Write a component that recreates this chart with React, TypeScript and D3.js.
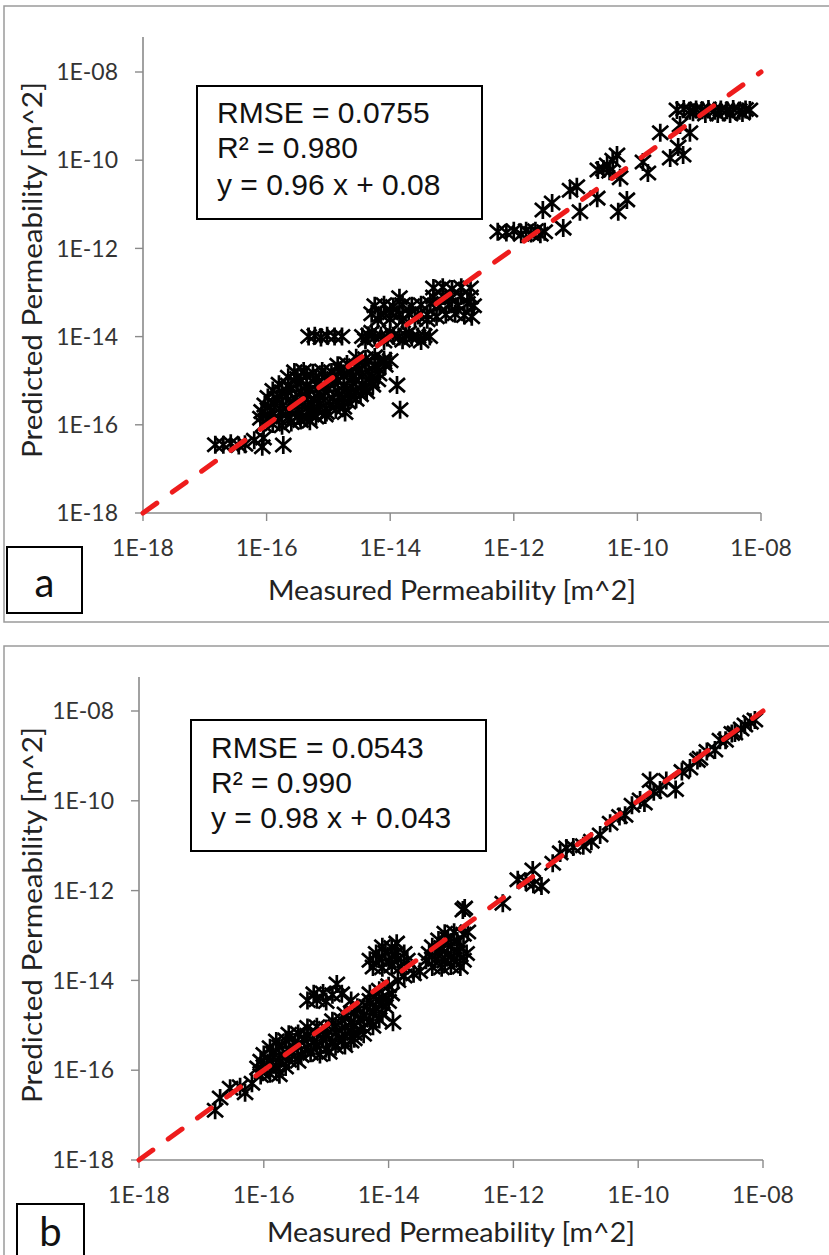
import * as d3 from "d3";
import React from "react";

const tickVals = [1e-18, 1e-16, 1e-14, 1e-12, 1e-10, 1e-8];
const tickLabels = ["1E-18", "1E-16", "1E-14", "1E-12", "1E-10", "1E-08"];

const statsA = ["RMSE = 0.0755", "R² = 0.980", "y = 0.96 x + 0.08"];
const statsB = ["RMSE = 0.0543", "R² = 0.990", "y = 0.98 x + 0.043"];

const aLow = [
  [-16.83, -16.45], [-16.7, -16.45], [-16.58, -16.42], [-16.45, -16.47], [-16.35, -16.44],
  [-16.2, -16.35], [-16.07, -16.5], [-16.05, -16.3], [-15.73, -16.46],
];
const aBlob = [
  [-16.05, -16.0], [-15.9, -15.98], [-15.75, -16.02], [-15.6, -15.95], [-15.45, -15.9], [-15.3, -15.92],
  [-16.1, -15.85], [-15.95, -15.82], [-15.8, -15.86], [-15.65, -15.83], [-15.5, -15.8], [-15.35, -15.85], [-15.2, -15.82], [-15.05, -15.78],
  [-16.08, -15.7], [-15.93, -15.68], [-15.78, -15.72], [-15.63, -15.7], [-15.48, -15.66], [-15.33, -15.7], [-15.18, -15.68], [-15.03, -15.72], [-14.88, -15.66], [-14.75, -15.6],
  [-16.03, -15.55], [-15.88, -15.52], [-15.73, -15.56], [-15.58, -15.54], [-15.43, -15.5], [-15.28, -15.55], [-15.13, -15.52], [-14.98, -15.56], [-14.83, -15.5], [-14.68, -15.48], [-14.55, -15.42],
  [-15.98, -15.38], [-15.83, -15.4], [-15.68, -15.36], [-15.53, -15.4], [-15.38, -15.38], [-15.23, -15.42], [-15.08, -15.36], [-14.93, -15.4], [-14.78, -15.38], [-14.63, -15.35], [-14.48, -15.32], [-14.38, -15.25],
  [-15.9, -15.22], [-15.75, -15.25], [-15.6, -15.2], [-15.45, -15.25], [-15.3, -15.22], [-15.15, -15.26], [-15.0, -15.2], [-14.85, -15.24], [-14.7, -15.2], [-14.55, -15.22], [-14.4, -15.18], [-14.28, -15.1],
  [-15.8, -15.08], [-15.65, -15.1], [-15.5, -15.06], [-15.35, -15.1], [-15.2, -15.08], [-15.05, -15.12], [-14.9, -15.06], [-14.75, -15.1], [-14.6, -15.05], [-14.45, -15.08], [-14.3, -15.02], [-14.2, -14.98],
  [-15.65, -14.92], [-15.5, -14.95], [-15.35, -14.9], [-15.2, -14.96], [-15.05, -14.92], [-14.9, -14.95], [-14.75, -14.9], [-14.6, -14.94], [-14.45, -14.9], [-14.3, -14.92], [-14.18, -14.85],
  [-15.55, -14.8], [-15.4, -14.78], [-15.25, -14.82], [-15.1, -14.78], [-14.95, -14.8], [-14.8, -14.76], [-14.65, -14.8], [-14.5, -14.75], [-14.35, -14.78], [-14.2, -14.72], [-14.08, -14.65],
  [-14.85, -14.65], [-14.7, -14.62], [-14.55, -14.66], [-14.4, -14.6], [-14.25, -14.64], [-14.1, -14.58],
  [-14.55, -14.48], [-14.4, -14.5], [-14.25, -14.46], [-14.1, -14.52], [-14.0, -14.55],
  [-13.89, -15.1], [-13.84, -15.66], [-14.73, -15.72], [-15.27, -15.73],
];
const aRow14 = [
  [-15.32, -14.0], [-15.22, -13.98], [-15.12, -14.02], [-15.02, -13.98], [-14.9, -14.0], [-14.78, -14.0],
  [-14.45, -14.0], [-14.35, -13.97], [-14.25, -14.02], [-14.15, -13.98], [-14.05, -14.02], [-13.95, -13.98],
  [-13.85, -14.0], [-13.75, -13.97], [-13.65, -14.02], [-13.55, -14.0], [-13.45, -13.98], [-13.36, -14.0],
  [-14.4, -14.08], [-14.1, -14.1], [-13.8, -14.08], [-13.5, -14.1], [-14.3, -13.9], [-14.0, -13.9], [-13.7, -13.92],
];
const aBlock13 = [
  [-14.2, -13.62], [-14.0, -13.6], [-13.8, -13.64], [-13.6, -13.6], [-13.4, -13.62],
  [-14.3, -13.48], [-14.15, -13.5], [-14.0, -13.46], [-13.85, -13.5], [-13.7, -13.48], [-13.55, -13.52],
  [-13.4, -13.5], [-13.25, -13.55], [-13.1, -13.5], [-12.95, -13.48], [-12.8, -13.52], [-12.68, -13.55],
  [-14.25, -13.3], [-14.1, -13.28], [-13.95, -13.32], [-13.8, -13.28], [-13.65, -13.3], [-13.5, -13.28],
  [-13.35, -13.25], [-13.2, -13.3], [-13.05, -13.28], [-12.9, -13.3], [-12.75, -13.25], [-12.65, -13.3],
  [-13.85, -13.12], [-13.3, -13.1], [-13.15, -13.08], [-13.0, -13.12], [-12.85, -13.08], [-12.7, -13.1],
  [-13.3, -12.9], [-13.15, -12.88], [-13.0, -12.92], [-12.85, -12.88], [-12.7, -12.9],
];
const aUpper = [
  [-12.26, -11.62], [-12.12, -11.64], [-12.0, -11.6], [-11.88, -11.68], [-11.8, -11.6], [-11.72, -11.66],
  [-11.65, -11.6], [-11.57, -11.68], [-11.5, -11.62],
  [-11.53, -11.13], [-11.38, -10.97], [-11.2, -11.54], [-11.09, -10.68], [-10.98, -10.6], [-10.93, -11.17],
  [-10.65, -10.86], [-10.64, -10.22], [-10.55, -10.2], [-10.49, -10.11], [-10.45, -10.25], [-10.4, -10.0],
  [-10.33, -9.88], [-10.28, -10.4], [-10.17, -10.9], [-10.31, -11.17], [-9.91, -10.04], [-9.83, -10.29],
  [-9.63, -9.38], [-9.47, -9.95], [-9.34, -9.7], [-9.31, -9.2], [-9.26, -9.88], [-9.15, -9.38], [-9.1, -8.91],
  [-9.36, -8.86], [-9.25, -8.84], [-9.15, -8.88], [-9.05, -8.85], [-8.95, -8.87], [-8.85, -8.84], [-8.75, -8.88],
  [-8.65, -8.85], [-8.55, -8.87], [-8.45, -8.84], [-8.35, -8.88], [-8.25, -8.85], [-8.18, -8.86],
  [-8.9, -8.95], [-8.7, -8.95], [-8.5, -8.95], [-8.3, -8.93],
];

const bLow = [
  [-16.78, -16.89], [-16.7, -16.62], [-16.54, -16.4], [-16.38, -16.37], [-16.19, -16.29], [-16.03, -16.04], [-16.3, -16.5],
];
const bBlob = [
  [-16.05, -16.12], [-15.9, -16.08], [-15.75, -16.1],
  [-16.1, -15.95], [-15.95, -15.92], [-15.8, -15.97], [-15.65, -15.93],
  [-16.05, -15.8], [-15.9, -15.78], [-15.75, -15.82], [-15.6, -15.78], [-15.45, -15.8],
  [-16.0, -15.65], [-15.85, -15.62], [-15.7, -15.66], [-15.55, -15.63], [-15.4, -15.67], [-15.25, -15.62], [-15.1, -15.65],
  [-15.9, -15.5], [-15.75, -15.48], [-15.6, -15.52], [-15.45, -15.48], [-15.3, -15.5], [-15.15, -15.47], [-15.0, -15.52], [-14.85, -15.48],
  [-15.8, -15.35], [-15.65, -15.33], [-15.5, -15.37], [-15.35, -15.33], [-15.2, -15.36], [-15.05, -15.32], [-14.9, -15.36], [-14.75, -15.33], [-14.6, -15.35],
  [-15.6, -15.2], [-15.45, -15.18], [-15.3, -15.22], [-15.15, -15.18], [-15.0, -15.2], [-14.85, -15.17], [-14.7, -15.22], [-14.55, -15.18], [-14.4, -15.2],
  [-15.3, -15.05], [-15.15, -15.03], [-15.0, -15.07], [-14.85, -15.03], [-14.7, -15.05], [-14.55, -15.02], [-14.4, -15.06], [-14.25, -15.02],
  [-14.9, -14.9], [-14.75, -14.88], [-14.6, -14.92], [-14.45, -14.88], [-14.3, -14.9], [-14.15, -14.87],
  [-14.7, -14.75], [-14.55, -14.73], [-14.4, -14.77], [-14.25, -14.73], [-14.1, -14.75],
  [-14.5, -14.6], [-14.35, -14.58], [-14.2, -14.62], [-14.05, -14.58],
  [-14.3, -14.45], [-14.15, -14.43], [-14.0, -14.47],
  [-14.95, -15.6], [-14.7, -15.45], [-14.55, -15.3],
  [-15.3, -14.45], [-15.15, -14.43], [-15.0, -14.47], [-15.2, -14.3], [-15.05, -14.28], [-14.9, -14.32],
  [-14.75, -14.3], [-14.83, -14.08], [-14.6, -14.45],
  [-14.3, -14.3], [-14.15, -14.22], [-14.0, -14.12], [-13.85, -14.0], [-13.95, -14.3], [-14.1, -14.4], [-13.93, -14.93],
];
const bBlock13 = [
  [-14.25, -13.7], [-14.1, -13.72], [-13.95, -13.68], [-13.8, -13.7], [-13.6, -13.85], [-13.75, -13.9],
  [-14.3, -13.55], [-14.15, -13.53], [-14.0, -13.57], [-13.85, -13.53], [-13.7, -13.55],
  [-14.2, -13.4], [-14.05, -13.38], [-13.9, -13.42], [-13.75, -13.4],
  [-14.1, -13.25], [-13.95, -13.27], [-13.87, -13.17],
  [-13.3, -13.7], [-13.15, -13.72], [-13.0, -13.68], [-12.85, -13.7], [-13.5, -13.8],
  [-13.4, -13.55], [-13.25, -13.53], [-13.1, -13.57], [-12.95, -13.53], [-12.8, -13.55],
  [-13.35, -13.4], [-13.2, -13.38], [-13.05, -13.42], [-12.9, -13.38], [-12.75, -13.4],
  [-13.3, -13.25], [-13.15, -13.27], [-13.0, -13.23], [-12.85, -13.25],
  [-13.2, -13.1], [-13.05, -13.08], [-12.9, -13.12],
  [-13.1, -12.95], [-12.95, -12.93], [-12.8, -12.97], [-12.81, -12.43],
];
const bUpper = [
  [-12.78, -12.39], [-12.73, -12.92], [-12.17, -12.28], [-11.93, -11.76], [-11.8, -11.8], [-11.68, -11.86],
  [-11.55, -11.9], [-11.69, -11.54], [-11.37, -11.39], [-11.25, -11.16], [-11.15, -11.05], [-11.04, -11.03],
  [-10.88, -11.0], [-10.75, -10.9], [-10.61, -10.76], [-10.45, -10.5], [-10.3, -10.35], [-10.21, -10.32],
  [-10.1, -10.1], [-9.97, -9.98], [-9.9, -10.05], [-9.81, -9.55], [-9.75, -9.8], [-9.65, -9.76], [-9.55, -9.55],
  [-9.4, -9.75], [-9.3, -9.35], [-9.17, -9.27], [-9.05, -9.1], [-9.01, -9.05], [-8.9, -8.9], [-8.77, -8.87],
  [-8.69, -8.65], [-8.6, -8.65], [-8.5, -8.5], [-8.45, -8.49], [-8.35, -8.4], [-8.29, -8.31], [-8.2, -8.25], [-8.13, -8.2],
];

const pointsA = [...aLow, ...aBlob, ...aRow14, ...aBlock13, ...aUpper];
const pointsB = [...bLow, ...bBlob, ...bBlock13, ...bUpper];

const axisFont = "Lato, 'Open Sans', sans-serif";
const boxFont = "'Liberation Sans', Arial, sans-serif";
const star = "M-8,-7L8,7M-8,7L8,-7M0,-9L0,9";

type Layout = {
  x0: number; x1: number; yBot: number; yTop: number; axisTop: number;
  box: number[]; textX: number; base: number[];
  tagBox: number[]; tag: string; tagX: number; tagBase: number;
  xTickBase: number; xTitleBase: number; yTitleY: number; border: number[];
};

const layoutA: Layout = {
  x0: 143, x1: 761, yBot: 513, yTop: 72, axisTop: 37,
  box: [197, 86, 285, 133], textX: 217, base: [123, 158, 195],
  tagBox: [7, 547, 75, 66], tag: "a", tagX: 44.5, tagBase: 597,
  xTickBase: 556, xTitleBase: 600, yTitleY: 270, border: [4, 6, 900, 616],
};
const layoutB: Layout = {
  x0: 139, x1: 763, yBot: 1160, yTop: 711, axisTop: 677,
  box: [191, 720, 295, 131], textX: 211, base: [758, 793, 828],
  tagBox: [17, 1204, 67, 80], tag: "b", tagX: 50.5, tagBase: 1246,
  xTickBase: 1203, xTitleBase: 1242, yTitleY: 915, border: [4, 646, 900, 700],
};

function Panel({ pts, stats, L }: { pts: number[][]; stats: string[]; L: Layout }) {
  const x = d3.scaleLog().domain([1e-18, 1e-8]).range([L.x0, L.x1]);
  const y = d3.scaleLog().domain([1e-18, 1e-8]).range([L.yBot, L.yTop]);
  const diag = d3.line<number>().x((v) => x(v)).y((v) => y(v))([1e-18, 1e-8]) || "";
  return (
    <g>
      <rect x={L.border[0]} y={L.border[1]} width={L.border[2]} height={L.border[3]}
        fill="#fff" stroke="#9a9a9a" strokeWidth={1.5} />
      {/* axes */}
      <line x1={L.x0} x2={L.x0} y1={L.axisTop} y2={L.yBot} stroke="#8a8a8a" strokeWidth={1.6} />
      <line x1={L.x0} x2={L.x1} y1={L.yBot} y2={L.yBot} stroke="#8a8a8a" strokeWidth={1.6} />
      {tickVals.map((t, i) => (
        <g key={"t" + i}>
          <line x1={L.x0 - 8} x2={L.x0} y1={y(t)} y2={y(t)} stroke="#8a8a8a" strokeWidth={1.4} />
          <text x={L.x0 - 25} y={y(t)} dy="0.36em" textAnchor="end" fontFamily={axisFont}
            fontSize={23} fill="#333">{tickLabels[i]}</text>
          <line x1={x(t)} x2={x(t)} y1={L.yBot} y2={L.yBot + 8} stroke="#8a8a8a" strokeWidth={1.4} />
          <text x={x(t)} y={L.xTickBase} textAnchor="middle" fontFamily={axisFont}
            fontSize={23} fill="#333">{tickLabels[i]}</text>
        </g>
      ))}
      <text x={(L.x0 + L.x1) / 2} y={L.xTitleBase} textAnchor="middle" fontFamily={axisFont}
        fontSize={27} fill="#222" textLength={368} lengthAdjust="spacingAndGlyphs">
        Measured Permeability [m^2]
      </text>
      <text transform={`translate(42,${L.yTitleY}) rotate(-90)`} textAnchor="middle"
        fontFamily={axisFont} fontSize={27} fill="#222" textLength={376} lengthAdjust="spacingAndGlyphs">
        Predicted Permeability [m^2]
      </text>
      {/* points */}
      {pts.map((p, i) => (
        <path key={i} d={star} transform={`translate(${x(Math.pow(10, p[0]))},${y(Math.pow(10, p[1]))})`}
          stroke="#000" strokeWidth={2.7} fill="none" />
      ))}
      {/* 1:1 line */}
      <path d={diag} stroke="#ee1c1c" strokeWidth={5} strokeDasharray="17 19" strokeLinecap="round" fill="none" />
      {/* stats box */}
      <rect x={L.box[0]} y={L.box[1]} width={L.box[2]} height={L.box[3]} fill="#fff" stroke="#000" strokeWidth={2} />
      {stats.map((s, i) => (
        <text key={"s" + i} x={L.textX} y={L.base[i]} fontFamily={boxFont} fontSize={30} fill="#111">{s}</text>
      ))}
      {/* panel tag */}
      <rect x={L.tagBox[0]} y={L.tagBox[1]} width={L.tagBox[2]} height={L.tagBox[3]} fill="#fff" stroke="#000" strokeWidth={2} />
      <text x={L.tagX} y={L.tagBase} textAnchor="middle" fontFamily={axisFont} fontSize={40} fill="#111">{L.tag}</text>
    </g>
  );
}

export default function App() {
  return (
    <svg width={829} height={1255} style={{ position: "absolute", left: 0, top: 0, background: "#fff" }}>
      <rect width={829} height={1255} fill="#fff" />
      <Panel pts={pointsA} stats={statsA} L={layoutA} />
      <Panel pts={pointsB} stats={statsB} L={layoutB} />
    </svg>
  );
}
